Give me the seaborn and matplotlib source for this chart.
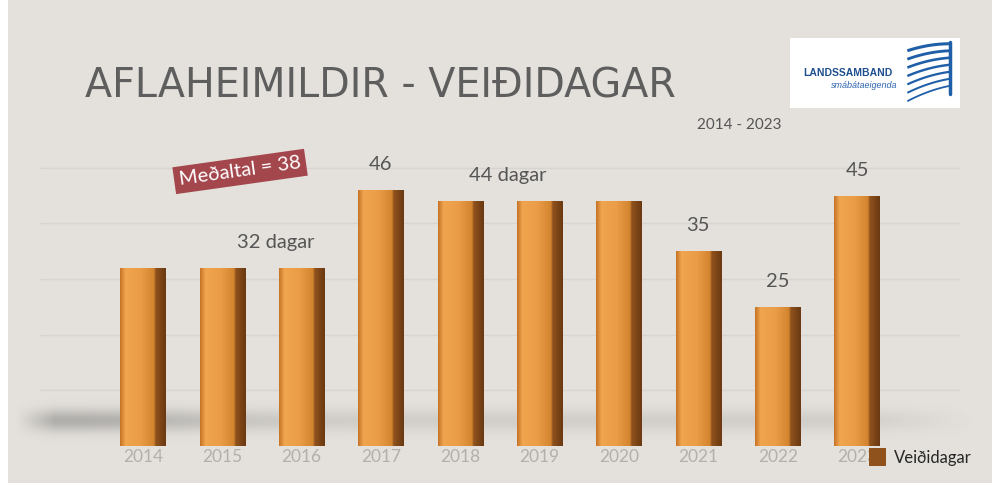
"""
Aflaheimildir - veiðidagar 2014-2023, bar chart recreated with seaborn.
"""
import matplotlib
matplotlib.use("Agg")
import matplotlib.pyplot as plt
import numpy as np
import pandas as pd
import seaborn as sns
from matplotlib.colors import LinearSegmentedColormap
from matplotlib.patches import Patch, Rectangle

# ---- data ---------------------------------------------------------------------
years = ["2014", "2015", "2016", "2017", "2018", "2019", "2020", "2021", "2022", "2023"]
days = [32, 32, 32, 46, 44, 44, 44, 35, 25, 45]
# value labels shown above the bars: (x index, text, bar value)
label_idx = [1.67, 3, 4.6, 7, 8, 9]
label_txt = ["32 dagar", "46", "44 dagar", "35", "25", "45"]
label_val = [32, 46, 44, 35, 25, 45]

title = "AFLAHEIMILDIR - VEIÐIDAGAR"
subtitle = "2014 - 2023"
avg_text = "Meðaltal = 38"
series_name = "Veiðidagar"

BG = "#e4e1dc"
TXT = "#555555"

sns.set_theme(style="white")
plt.rcParams["font.family"] = ["Lato", "DejaVu Sans"]

df = pd.DataFrame({"year": years, "days": days})

fig = plt.figure(figsize=(9.92, 4.83), dpi=100, facecolor=BG)

# soft floor shadow behind the bars + thin white slide edge on the left
bg_ax = fig.add_axes([0, 0, 1, 1], zorder=0)
bg_ax.set_axis_off()
yy, xx = np.mgrid[0:483, 0:992]
shadow = np.exp(-((yy - 420) / 11.0) ** 2) * (0.12 + 0.22 * np.exp(-((xx - 60) / 160.0) ** 2))
shadow *= np.clip((xx - 15) / 40.0, 0, 1) * np.clip((975 - xx) / 120.0, 0, 1)
rgba = np.zeros((483, 992, 4))
rgba[..., :3] = 0.3
rgba[..., 3] = shadow
bg_ax.imshow(rgba, extent=[0, 992, 483, 0], aspect="auto")
bg_ax.add_patch(Rectangle((0, 0), 8, 483, fc="white", ec="none"))
bg_ax.set_xlim(0, 992); bg_ax.set_ylim(483, 0)

ax = fig.add_axes([0.04, 0.1, 0.928, 0.61], zorder=1)
ax.patch.set_alpha(0)
sns.barplot(data=df, x="year", y="days", color="#e0913c", width=0.57,
            saturation=1, ax=ax, zorder=3)

# orange/brown shading clipped into every bar
bar_cmap = LinearSegmentedColormap.from_list(
    "bar", [(0.0, "#c47225"), (0.12, "#f0a54f"), (0.45, "#eb9c46"),
            (0.74, "#d2842f"), (0.78, "#8f521d"), (1.0, "#6a3812")])
grad = np.linspace(0, 1, 256)[None, :]
for p in ax.patches:
    x0, y0, w, h = p.get_x(), p.get_y(), p.get_width(), p.get_height()
    p.set_edgecolor("none")
    im = ax.imshow(grad, extent=[x0, x0 + w, y0, y0 + h], aspect="auto",
                   cmap=bar_cmap, zorder=4)
    im.set_clip_path(p)

ax.set_xlim(-1.3, 10.3)
ax.set_ylim(2, 55)
ax.set_yticks([10, 20, 30, 40, 50])
ax.yaxis.grid(True, color="#d8d5d0", lw=1.0)
ax.set_axisbelow(True)
ax.tick_params(axis="y", left=False, labelleft=False)
ax.tick_params(axis="x", bottom=False, pad=4, labelsize=12.5, labelcolor="#b3afaa")
ax.set_xlabel(""); ax.set_ylabel("")
for s in ax.spines.values():
    s.set_visible(False)

for xi, txt, v in zip(label_idx, label_txt, label_val):
    ax.text(xi, v + 4.6, txt, ha="center", va="center", fontsize=14.5, color=TXT, zorder=6)

# title, subtitle, average box
fig.text(0.086, 0.82, title, fontsize=28.5, color="#5e5e5e", ha="left", va="center",
         family=["DejaVu Sans"])
fig.text(0.745, 0.741, subtitle, fontsize=11, color=TXT, ha="center", va="center")
fig.text(0.242, 0.645, avg_text, fontsize=14.5, color="white", ha="center", va="center",
         rotation=8, bbox=dict(boxstyle="square,pad=0.25", fc="#a4474d", ec="none"), zorder=5)

# logo block
lg = fig.add_axes([0.796, 0.776, 0.172, 0.145], zorder=2)
lg.add_patch(Rectangle((0, 0), 1, 1, transform=lg.transAxes, fc="white", ec="none"))
lg.set_xlim(0, 1); lg.set_ylim(0, 1); lg.set_axis_off()
lg.text(0.08, 0.5, "LANDSSAMBAND", fontsize=7.5, color="#1f4f8f", fontweight="bold",
        ha="left", va="center", family=["Liberation Sans", "DejaVu Sans"])
lg.text(0.24, 0.33, "smábátaeigenda", fontsize=6.5, color="#2f67b0", style="italic",
        ha="left", va="center", family=["Liberation Sans", "DejaVu Sans"])
t = np.linspace(0, 1, 40)
for k in range(7):
    y_end = 0.92 - k * 0.1
    lg.plot(0.69 + 0.25 * t, y_end - 0.1 * (1 - t) ** 2 - 0.02 * k * (1 - t), color="#1f5fa8",
            lw=2.2 - 0.15 * k, solid_capstyle="butt")
lg.plot([0.94, 0.94], [0.2, 0.95], color="#1f5fa8", lw=2.5)

fig.legend(handles=[Patch(facecolor="#8f521d", edgecolor="none", label=series_name)],
           loc="lower right", bbox_to_anchor=(0.995, 0.005), frameon=False,
           fontsize=12, handlelength=1.0, handleheight=1.2, handletextpad=0.5)

fig.savefig("out.png", dpi=100, facecolor=BG)
